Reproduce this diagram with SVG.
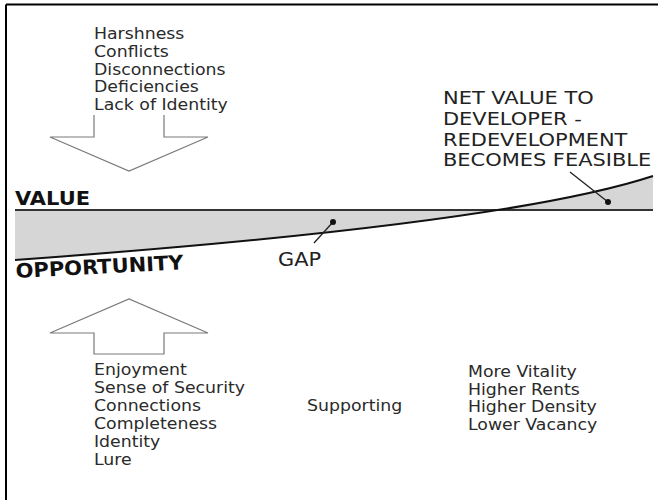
<svg xmlns="http://www.w3.org/2000/svg" width="658" height="500" viewBox="0 0 658 500">
  <style>
    .txt { font-family: "DejaVu Sans", Verdana, sans-serif; font-size: 15.2px; fill: #2a2a2a; }
    .cap { font-family: "DejaVu Sans", Verdana, sans-serif; font-size: 17.6px; fill: #222; }
    .gap { font-family: "DejaVu Sans", Verdana, sans-serif; font-size: 20px; fill: #222; }
    .axis { font-family: "DejaVu Sans", Verdana, sans-serif; font-size: 20px; font-weight: bold; fill: #111; }
    .arrow { fill: #fff; stroke: #7a7a7a; stroke-width: 1.2; stroke-linejoin: miter; }
    .leader { stroke: #222; stroke-width: 1.3; fill: none; }
    .dot { fill: #111; }
  </style>

  <rect width="658" height="500" fill="#fff"/>

  <!-- frame: top and left rules -->
  <g id="frame" stroke="#000" stroke-width="2" fill="none">
    <line x1="6" y1="4.5" x2="658" y2="4.5"/>
    <line x1="6" y1="4.5" x2="6" y2="500"/>
  </g>

  <!-- gap band between value and opportunity -->
  <g id="gap-band">
    <path d="M15,210 L15,260 Q505,224.7 653,176 L653,210 Z" fill="#d6d6d6"/>
  </g>

  <g id="connectors">
    <line id="value-line" x1="15" y1="210" x2="653" y2="210" stroke="#333" stroke-width="2"/>
    <path id="opportunity-line" d="M15,260 Q505,224.7 653,176" fill="none" stroke="#111" stroke-width="2"/>
    <line class="leader" x1="314" y1="243" x2="333" y2="222"/>
    <circle class="dot" cx="333" cy="222" r="3"/>
    <line class="leader" x1="570" y1="172" x2="608" y2="202"/>
    <circle class="dot" cx="608" cy="202" r="3"/>
  </g>

  <!-- downward arrow: negative factors -->
  <g id="arrow-down">
    <path class="arrow" d="M94,115 L94,137 L50,137 L129,171 L208,137 L164,137 L164,115"/>
  </g>

  <!-- upward arrow: positive factors -->
  <g id="arrow-up">
    <path class="arrow" d="M94,354 L94,333 L50,333 L129,299 L208,333 L164,333 L164,354 Z"/>
  </g>

  <g id="negatives" transform="translate(94,0) scale(1.14,1)">
    <text class="txt" x="0" y="39">Harshness</text>
    <text class="txt" x="0" y="57">Conflicts</text>
    <text class="txt" x="0" y="75">Disconnections</text>
    <text class="txt" x="0" y="92.5">Deficiencies</text>
    <text class="txt" x="0" y="110">Lack of Identity</text>
  </g>

  <g id="value-label">
    <text class="axis" x="15" y="205" textLength="75" lengthAdjust="spacingAndGlyphs">VALUE</text>
  </g>

  <g id="opportunity-label">
    <text class="axis" x="16" y="278" transform="rotate(-3 16 278)" textLength="168" lengthAdjust="spacingAndGlyphs">OPPORTUNITY</text>
  </g>

  <g id="gap-label">
    <text class="gap" x="278" y="266" textLength="43" lengthAdjust="spacingAndGlyphs">GAP</text>
  </g>

  <g id="net-value" transform="translate(443,0) scale(1.19,1)">
    <text class="cap" x="0" y="104">NET VALUE TO</text>
    <text class="cap" x="0" y="125">DEVELOPER -</text>
    <text class="cap" x="0" y="146">REDEVELOPMENT</text>
    <text class="cap" x="0" y="166.5">BECOMES FEASIBLE</text>
  </g>

  <g id="positives" transform="translate(94,0) scale(1.14,1)">
    <text class="txt" x="0" y="375">Enjoyment</text>
    <text class="txt" x="0" y="393">Sense of Security</text>
    <text class="txt" x="0" y="411">Connections</text>
    <text class="txt" x="0" y="429">Completeness</text>
    <text class="txt" x="0" y="447">Identity</text>
    <text class="txt" x="0" y="465">Lure</text>
  </g>

  <g id="supporting" transform="translate(307,0) scale(1.14,1)">
    <text class="txt" x="0" y="411">Supporting</text>
  </g>

  <g id="outcomes" transform="translate(468,0) scale(1.14,1)">
    <text class="txt" x="0" y="377">More Vitality</text>
    <text class="txt" x="0" y="395">Higher Rents</text>
    <text class="txt" x="0" y="412.5">Higher Density</text>
    <text class="txt" x="0" y="430">Lower Vacancy</text>
  </g>
</svg>
